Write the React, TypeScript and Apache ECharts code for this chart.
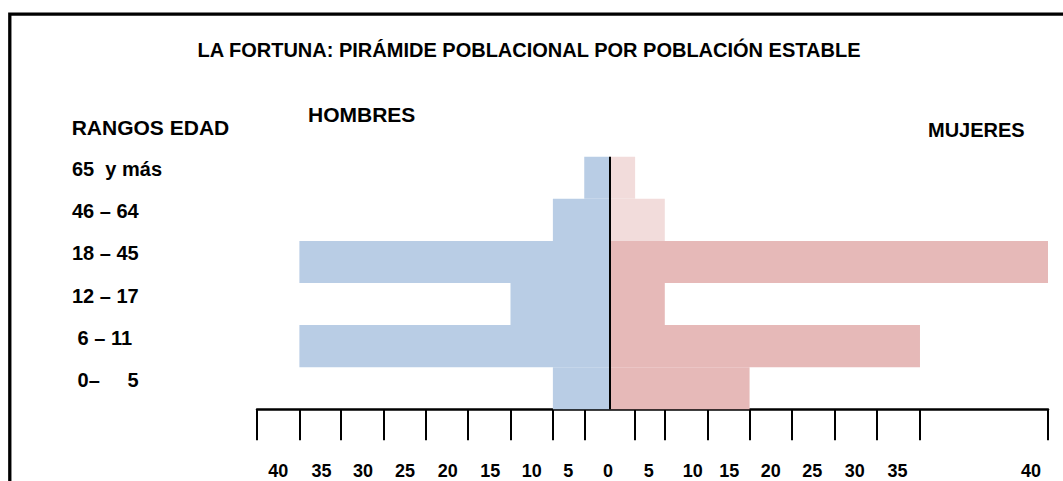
import React, { useEffect, useRef } from "react";
import * as echarts from "echarts";

// Age ranges, bottom to top
const ageRanges = [" 0–     5", " 6 – 11", "12 – 17", "18 – 45", "46 – 64", "65  y más"];
// Values (axis units, bottom to top)
const menValues = [6.7, 36.6, 11.7, 36.6, 6.7, 3];
const womenValues = [16.5, 36.6, 6.5, 51.7, 6.5, 3];

// Irregular tick marks of the hand-made axis
const tickValues = [-41.6, -36.6, -31.7, -26.7, -21.7, -16.7, -11.7, -6.7, -3, 3, 6.5, 11.6, 16.5, 21.5, 26.5, 31.5, 36.6, 51.7];
// Tick labels and where they sit on the axis
const tickLabelValues = [-39.1, -34.0, -29.1, -24.15, -19.1, -14.1, -9.2, -4.9, -0.2, 4.6, 9.8, 14.1, 19.0, 23.9, 28.9, 33.95, 49.7];
const tickLabelTexts = ["40", "35", "30", "25", "20", "15", "10", "5", "0", "5", "10", "15", "20", "25", "30", "35", "40"];

const axisMin = -41.6;
const axisMax = 51.7;

const FONT = '"Liberation Sans", Arial, sans-serif';
const BLUE = "#B9CDE5";
const PINK = "#E6B9B8";
const LIGHT_PINK = "#F2DCDB";
const womenColors = [PINK, PINK, PINK, PINK, LIGHT_PINK, LIGHT_PINK];

export default function App() {
  const ref = useRef<HTMLDivElement>(null);
  useEffect(() => {
    if (!ref.current) return;
    const chart = echarts.init(ref.current, undefined, { renderer: "svg" });
    const option: any = {
      animation: false,
      backgroundColor: "#ffffff",
      grid: { left: 257, right: 15, top: 156.7, bottom: 71.7 },
      xAxis: {
        type: "value",
        min: axisMin,
        max: axisMax,
        splitLine: { show: false },
        axisLine: { show: true, onZero: false, lineStyle: { color: "#000", width: 2.5 } },
        axisTick: {
          show: true,
          length: 31,
          customValues: tickValues,
          lineStyle: { color: "#000", width: 2 },
        },
        axisLabel: {
          show: true,
          customValues: tickLabelValues,
          margin: 53,
          color: "#000",
          fontFamily: FONT,
          fontWeight: "bold",
          fontSize: 18,
          formatter: (v: number) => {
            let best = 0;
            let d = Infinity;
            tickLabelValues.forEach((p, i) => {
              const dd = Math.abs(p - v);
              if (dd < d) {
                d = dd;
                best = i;
              }
            });
            return tickLabelTexts[best];
          },
        },
      },
      yAxis: {
        type: "category",
        data: ageRanges,
        axisLine: { show: false },
        axisTick: { show: false },
        splitLine: { show: false },
        axisLabel: {
          align: "left",
          verticalAlign: "bottom",
          lineHeight: 17,
          margin: 185,
          color: "#000",
          fontFamily: FONT,
          fontWeight: "bold",
          fontSize: 20,
        },
      },
      series: [
        {
          name: "HOMBRES",
          type: "bar",
          stack: "total",
          barCategoryGap: "0%",
          data: menValues.map((v) => -v),
          itemStyle: { color: BLUE },
          markLine: {
            silent: true,
            symbol: "none",
            label: { show: false },
            lineStyle: { color: "#000", width: 2, type: "solid" },
            data: [{ xAxis: 0 }],
          },
        },
        {
          name: "MUJERES",
          type: "bar",
          stack: "total",
          barCategoryGap: "0%",
          data: womenValues.map((v, i) => ({ value: v, itemStyle: { color: womenColors[i] } })),
        },
      ],
      graphic: [
        {
          type: "rect",
          shape: { x: 9.8, y: 14.2, width: 1063, height: 480 },
          style: { fill: "none", stroke: "#000", lineWidth: 3.3 },
          silent: true,
        },
        {
          type: "text",
          x: 529,
          y: 50,
          style: {
            text: "LA FORTUNA: PIRÁMIDE POBLACIONAL POR POBLACIÓN ESTABLE",
            font: `bold 20px ${FONT}`,
            fill: "#000",
            textAlign: "center",
            textVerticalAlign: "middle",
          },
        },
        {
          type: "text",
          x: 71.7,
          y: 127.5,
          style: {
            text: "RANGOS EDAD",
            font: `bold 21px ${FONT}`,
            fill: "#000",
            textAlign: "left",
            textVerticalAlign: "middle",
          },
        },
        {
          type: "text",
          x: 308,
          y: 114,
          style: {
            text: "HOMBRES",
            font: `bold 21px ${FONT}`,
            fill: "#000",
            textAlign: "left",
            textVerticalAlign: "middle",
          },
        },
        {
          type: "text",
          x: 928,
          y: 130,
          style: {
            text: "MUJERES",
            font: `bold 20px ${FONT}`,
            fill: "#000",
            textAlign: "left",
            textVerticalAlign: "middle",
          },
        },
      ],
    };
    chart.setOption(option);
    return () => chart.dispose();
  }, []);
  return (
    <div
      style={{ position: "fixed", left: 0, top: 0, width: 1063, height: 481, overflow: "hidden", background: "#fff" }}
    >
      <div ref={ref} style={{ width: 1063, height: 481 }} />
    </div>
  );
}
